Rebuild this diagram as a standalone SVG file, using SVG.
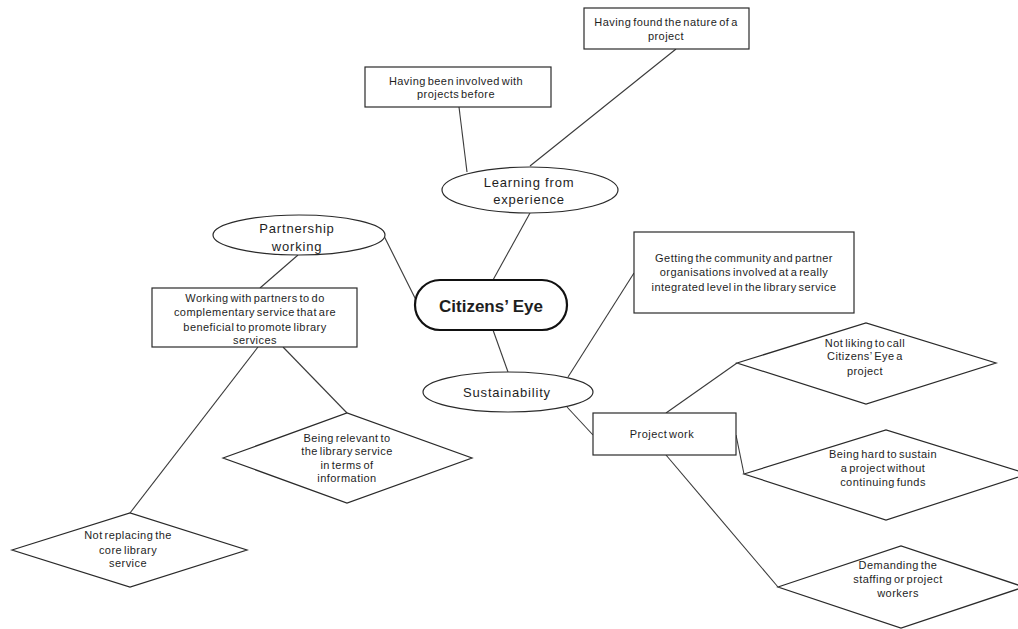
<svg xmlns="http://www.w3.org/2000/svg" width="1018" height="629" viewBox="0 0 1018 629">
  <style>
    .bg { fill: #ffffff; }
    .box, .oval, .diamond { fill: #ffffff; stroke: #2a2a2a; stroke-width: 1.2; }
    .hub { fill: #ffffff; stroke: #111111; stroke-width: 2.2; }
    .link { fill: none; stroke: #3a3a3a; stroke-width: 1.1; }
    text { font-family: "Liberation Sans", Arial, sans-serif; fill: #1e1e1e; text-anchor: middle; }
    .small { font-size: 11px; letter-spacing: 0.45px; word-spacing: -1.6px; }
    .mid { font-size: 13px; letter-spacing: 0.8px; }
    .hubtxt { font-size: 17px; font-weight: bold; }
  </style>

  <rect class="bg" x="0" y="0" width="1018" height="629"/>

  <!-- connectors -->
  <g id="connectors">
    <line class="link" x1="676" y1="49" x2="530" y2="166"/>
    <line class="link" x1="459" y1="107" x2="467" y2="172"/>
    <line class="link" x1="493" y1="280" x2="530" y2="213"/>
    <line class="link" x1="382" y1="232" x2="416" y2="300"/>
    <line class="link" x1="298" y1="255" x2="260" y2="288"/>
    <line class="link" x1="283" y1="347" x2="347" y2="413"/>
    <line class="link" x1="258" y1="347" x2="130" y2="513"/>
    <line class="link" x1="493" y1="330" x2="508" y2="372"/>
    <line class="link" x1="568" y1="377" x2="634" y2="273"/>
    <line class="link" x1="567" y1="407" x2="593" y2="435"/>
    <line class="link" x1="666" y1="413" x2="737" y2="363"/>
    <line class="link" x1="736" y1="435" x2="744" y2="474"/>
    <line class="link" x1="666" y1="455" x2="778" y2="587"/>
  </g>

  <!-- central topic -->
  <g id="citizens-eye">
    <rect class="hub" x="415" y="280" width="152" height="50" rx="25" ry="25"/>
    <text class="hubtxt" x="491" y="312">Citizens’ Eye</text>
  </g>

  <!-- learning branch -->
  <g id="learning">
    <ellipse class="oval" cx="530" cy="190" rx="88" ry="23"/>
    <text class="mid" x="529" y="187">Learning from</text>
    <text class="mid" x="529" y="204">experience</text>
  </g>
  <g id="found-nature">
    <rect class="box" x="584" y="8" width="165" height="41"/>
    <text class="small" x="666" y="26">Having found the nature of a</text>
    <text class="small" x="666" y="40">project</text>
  </g>
  <g id="involved-before">
    <rect class="box" x="365" y="67" width="186" height="40"/>
    <text class="small" x="456" y="85">Having been involved with</text>
    <text class="small" x="456" y="98">projects before</text>
  </g>

  <!-- partnership branch -->
  <g id="partnership">
    <ellipse class="oval" cx="299" cy="235" rx="86" ry="20"/>
    <text class="mid" x="297" y="233">Partnership</text>
    <text class="mid" x="297" y="251">working</text>
  </g>
  <g id="working-partners">
    <rect class="box" x="152" y="288" width="205" height="59"/>
    <text class="small" x="255" y="302">Working with partners to do</text>
    <text class="small" x="255" y="316">complementary service that are</text>
    <text class="small" x="255" y="331">beneficial to promote library</text>
    <text class="small" x="255" y="344">services</text>
  </g>
  <g id="being-relevant">
    <polygon class="diamond" points="223,458 347,413 472,458 347,503"/>
    <text class="small" x="347" y="442">Being relevant to</text>
    <text class="small" x="347" y="455">the library service</text>
    <text class="small" x="347" y="469">in terms of</text>
    <text class="small" x="347" y="482">information</text>
  </g>
  <g id="not-replacing">
    <polygon class="diamond" points="12,550 130,513 247,550 130,587"/>
    <text class="small" x="128" y="539">Not replacing the</text>
    <text class="small" x="128" y="554">core library</text>
    <text class="small" x="128" y="567">service</text>
  </g>

  <!-- sustainability branch -->
  <g id="sustainability">
    <ellipse class="oval" cx="508" cy="392" rx="85" ry="20"/>
    <text class="mid" x="507" y="397">Sustainability</text>
  </g>
  <g id="getting-community">
    <rect class="box" x="634" y="232" width="220" height="81"/>
    <text class="small" x="744" y="262">Getting the community and partner</text>
    <text class="small" x="744" y="276">organisations involved at a really</text>
    <text class="small" x="744" y="291">integrated level in the library service</text>
  </g>
  <g id="project-work">
    <rect class="box" x="593" y="413" width="143" height="42"/>
    <text class="small" x="662" y="438">Project work</text>
  </g>
  <g id="not-liking">
    <polygon class="diamond" points="737,363 866,323 996,363 866,404"/>
    <text class="small" x="865" y="347">Not liking to call</text>
    <text class="small" x="865" y="360">Citizens’ Eye a</text>
    <text class="small" x="865" y="375">project</text>
  </g>
  <g id="hard-to-sustain">
    <polygon class="diamond" points="744,474 886,430 1028,474 886,520"/>
    <text class="small" x="883" y="458">Being hard to sustain</text>
    <text class="small" x="883" y="472">a project without</text>
    <text class="small" x="883" y="486">continuing funds</text>
  </g>
  <g id="demanding-staffing">
    <polygon class="diamond" points="778,587 901,546 1024,587 901,628"/>
    <text class="small" x="898" y="569">Demanding the</text>
    <text class="small" x="898" y="583">staffing or project</text>
    <text class="small" x="898" y="597">workers</text>
  </g>
</svg>
